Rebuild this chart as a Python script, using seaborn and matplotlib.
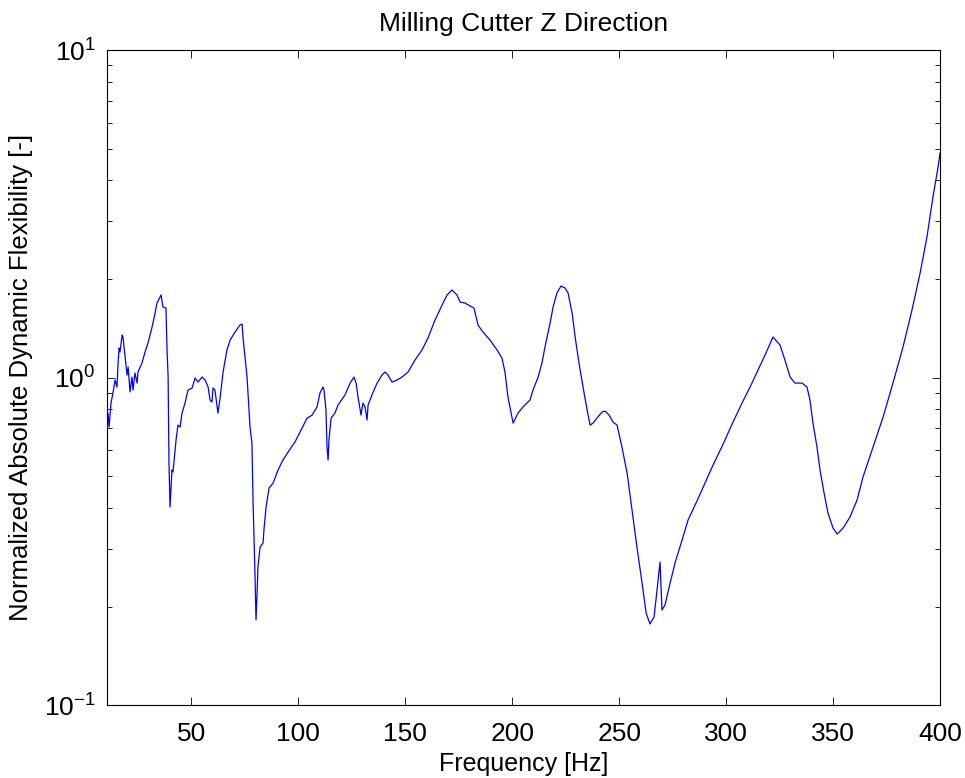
import numpy as np
import pandas as pd
import seaborn as sns
import matplotlib
matplotlib.use("Agg")
import matplotlib.pyplot as plt
from matplotlib.ticker import LogLocator, FixedLocator, NullFormatter

freq = [10.5, 11.0, 11.5, 12.4, 13.3, 14.3, 15.2, 15.7, 16.2, 16.6, 17.6, 18.0, 19.0, 19.9, 20.4,
        21.3, 22.2, 22.7, 23.6, 24.6, 25.0, 26.9, 28.3, 29.7, 31.6, 33.0, 33.9, 35.8, 36.7, 38.1,
        38.6, 39.1, 39.5, 40.0, 40.9, 41.4, 42.8, 43.7, 44.7, 45.6, 47.0, 48.4, 50.3, 51.7, 53.1,
        55.0, 56.4, 57.8, 58.7, 59.6, 60.1, 61.0, 62.4, 63.4, 64.8, 66.6, 68.1, 70.4, 72.7, 73.7,
        74.1, 76.0, 77.4, 78.3, 78.8, 79.7, 80.2, 80.7, 81.1, 82.1, 83.5, 83.9, 84.9, 86.3, 88.2,
        90.5, 92.8, 95.2, 98.4, 101.7, 104.1, 106.4, 108.7, 110.1, 111.5, 112.0, 112.9, 113.4, 113.9,
        114.3, 115.3, 117.1, 118.5, 121.8, 124.2, 126.0, 127.0, 127.9, 129.3, 130.2, 131.2, 132.1,
        132.6, 134.4, 136.8, 139.1, 140.5, 141.9, 143.8, 146.1, 148.5, 151.3, 154.5, 157.8, 160.6,
        163.9, 167.2, 169.5, 171.8, 174.2, 175.6, 177.9, 180.3, 182.1, 184.0, 186.3, 189.6, 192.9,
        195.2, 196.6, 198.0, 200.4, 202.7, 205.0, 208.3, 209.7, 212.1, 213.9, 215.3, 217.7, 219.1,
        220.9, 222.8, 224.7, 226.1, 228.0, 229.4, 231.2, 233.1, 235.0, 236.4, 237.8, 239.6, 242.0,
        243.4, 245.3, 247.1, 249.0, 251.3, 253.7, 256.0, 258.3, 260.7, 262.6, 264.4, 266.3, 267.7,
        269.1, 270.0, 271.4, 273.8, 276.1, 279.4, 282.2, 286.4, 290.1, 293.9, 298.6, 303.2, 307.9,
        311.2, 314.5, 318.2, 321.9, 325.2, 327.5, 329.9, 332.2, 335.5, 337.8, 339.2, 340.6, 342.5,
        343.9, 345.8, 347.6, 350.0, 351.9, 354.7, 357.9, 361.2, 364.0, 368.7, 373.4, 378.0, 382.7,
        386.9, 390.7, 393.9, 396.7, 399.1, 400.0]
flex = [0.692, 0.780, 0.707, 0.837, 0.898, 0.984, 0.937, 1.109, 1.232, 1.198, 1.350, 1.331, 1.157, 1.019, 1.078,
        0.905, 1.005, 0.917, 1.034, 0.963, 1.041, 1.109, 1.198, 1.276, 1.428, 1.575, 1.690, 1.788, 1.643, 1.632,
        1.215, 1.005, 0.549, 0.403, 0.523, 0.516, 0.645, 0.717, 0.707, 0.780, 0.837, 0.917, 0.930, 0.998, 0.970,
        1.005, 0.984, 0.937, 0.855, 0.843, 0.930, 0.917, 0.780, 0.867, 1.041, 1.215, 1.303, 1.379, 1.448, 1.458,
        1.331, 1.005, 0.707, 0.632, 0.423, 0.2535, 0.1823, 0.2203, 0.2645, 0.3043, 0.3130, 0.3429, 0.403, 0.4607, 0.4772,
        0.523, 0.5608, 0.5933, 0.6363, 0.702, 0.753, 0.769, 0.814, 0.898, 0.937, 0.917, 0.797, 0.614, 0.5608,
        0.645, 0.753, 0.780, 0.825, 0.886, 0.963, 1.005, 0.963, 0.873, 0.769, 0.837, 0.814, 0.743,
        0.825, 0.886, 0.963, 1.019, 1.041, 1.019, 0.970, 0.984, 1.005, 1.041, 1.132, 1.215, 1.322,
        1.500, 1.667, 1.788, 1.852, 1.788, 1.702, 1.690, 1.655, 1.632, 1.448, 1.379, 1.303, 1.215,
        1.148, 1.041, 0.873, 0.727, 0.780, 0.814, 0.855, 0.917, 1.005, 1.109, 1.241, 1.469, 1.643,
        1.814, 1.905, 1.878, 1.814, 1.575, 1.331, 1.109, 0.937, 0.797, 0.717, 0.727, 0.753, 0.786,
        0.791, 0.769, 0.732, 0.717, 0.614, 0.512, 0.395, 0.3043, 0.2362, 0.1914, 0.1772, 0.1861, 0.2250,
        0.2740, 0.1955, 0.2024, 0.2362, 0.2720, 0.3197, 0.3679, 0.421, 0.477, 0.5416, 0.6274, 0.732, 0.849,
        0.937, 1.041, 1.173, 1.331, 1.258, 1.132, 1.005, 0.963, 0.963, 0.937, 0.855, 0.727, 0.614,
        0.523, 0.4447, 0.3865, 0.3477, 0.3334, 0.3477, 0.3757, 0.423, 0.4977, 0.614, 0.759, 0.963, 1.241,
        1.609, 2.087, 2.688, 3.559, 4.395, 4.851]

x_ticks = [50, 100, 150, 200, 250, 300, 350, 400]

df = pd.DataFrame({"Frequency": freq, "Flexibility": flex})

sns.set_style("white")
plt.rcParams["font.family"] = ["Liberation Sans", "DejaVu Sans"]
plt.rcParams["text.color"] = "black"
plt.rcParams["axes.labelcolor"] = "black"
plt.rcParams["mathtext.fontset"] = "custom"
plt.rcParams["mathtext.rm"] = "Liberation Sans"
plt.rcParams["mathtext.it"] = "Liberation Sans"

fig = plt.figure(figsize=(9.65, 7.78), dpi=100)
ax = fig.add_axes([0.1106, 0.0933, 0.8635, 0.8424])

sns.lineplot(data=df, x="Frequency", y="Flexibility", ax=ax, color="#0000ff",
             linewidth=0.9, estimator=None, sort=False)

ax.set_yscale("log")
ax.set_xlim(10.4, 400)
ax.set_ylim(0.1, 10)
ax.xaxis.set_major_locator(FixedLocator(x_ticks))
ax.yaxis.set_minor_locator(LogLocator(base=10, subs=np.arange(2, 10), numticks=20))
ax.yaxis.set_minor_formatter(NullFormatter())
ax.set_yticks([0.1, 1, 10])
ax.set_yticklabels([r"$10^{-1}$", r"$10^{0}$", r"$10^{1}$"])

for s in ax.spines.values():
    s.set_visible(True)
    s.set_color("black")
    s.set_linewidth(0.8)

ax.tick_params(which="both", direction="in", top=True, right=True, bottom=True, left=True,
               colors="black", labelcolor="black", labelsize=19, width=0.6)
ax.tick_params(which="major", length=6)
ax.tick_params(which="minor", length=3.5)
ax.tick_params(axis="x", pad=12)
ax.tick_params(axis="y", pad=8)

ax.set_title("Milling Cutter Z Direction", fontsize=19, pad=14, color="black")
ax.set_xlabel("Frequency [Hz]", fontsize=18, labelpad=4)
ax.set_ylabel("Normalized Absolute Dynamic Flexibility [-]", fontsize=18.5)
ax.yaxis.set_label_coords(-0.088, 0.5)

fig.savefig("out.png", dpi=100, facecolor="white")
